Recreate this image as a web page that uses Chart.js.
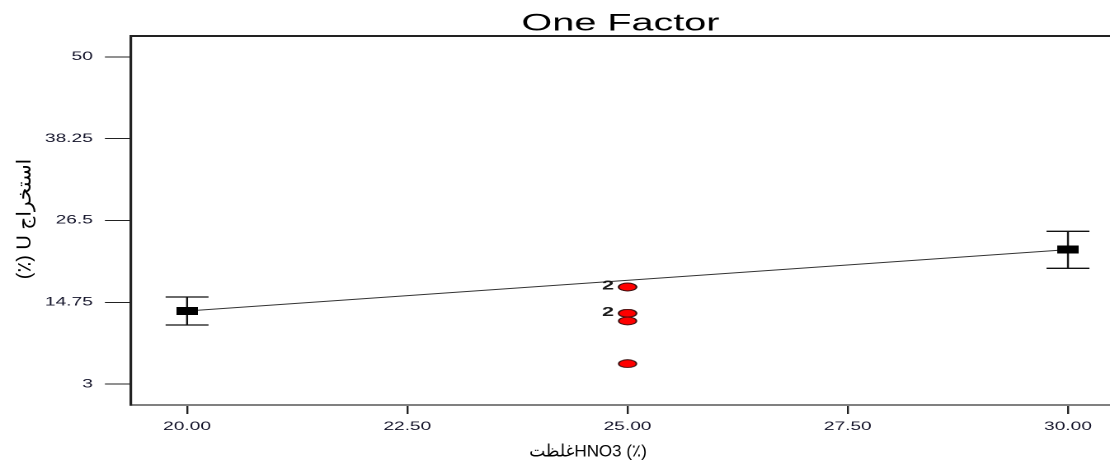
<!DOCTYPE html>
<html>
<head>
<meta charset="utf-8">
<script src="https://cdn.jsdelivr.net/npm/chart.js@4.4.1/dist/chart.umd.min.js"></script>
<style>
  html, body { margin: 0; padding: 0; background: #fff; overflow: hidden; }
  #wrap { width: 673px; height: 463px; transform: scaleX(1.6493); transform-origin: 0 0; }
</style>
</head>
<body>
<div id="wrap"><canvas id="chart"></canvas></div>
<script>
// factor levels with model means and error bars
const factorLevels = [20, 30];
const meanValues = [13.5, 22.31];
const errLow = [11.49, 19.63];
const errHigh = [15.51, 24.95];

// design runs (all at 25), duplicates kept
const runX = [25, 25, 25, 25, 25, 25];
const runY = [16.95, 16.95, 13.17, 13.17, 12.07, 5.93];

const xTicks = [20, 22.5, 25, 27.5, 30];
const yTicks = [3, 14.75, 26.5, 38.25, 50];

const chartTitle = "One Factor";
const xTitle = "غلظتHNO3 (٪)";
const yTitle = "(٪) U استخراج";

// the picture is stretched sideways, everything is drawn narrow and scaled by css
const STRETCH = 1110 / 673;
const tickFont = { family: "Arial, 'Liberation Sans'", size: 11.6 };
const tickColor = "#14142a";

// marker images, drawn at 2x so they stay sharp
function markerImage(w, h, draw) {
    return new Promise(resolve => {
        const c = document.createElement("canvas");
        c.width = w * 2;
        c.height = h * 2;
        const g = c.getContext("2d");
        g.scale(2, 2);
        draw(g, w, h);
        const img = new Image(w, h);
        img.onload = () => resolve(img);
        img.src = c.toDataURL();
    });
}

const rectMarker = markerImage(13, 8, (g, w, h) => {
    g.fillStyle = "#000";
    g.fillRect(0, 0, w, h);
});

const dotMarker = markerImage(12, 9, (g, w, h) => {
    g.beginPath();
    g.ellipse(w / 2, h / 2, w / 2 - 0.6, h / 2 - 0.6, 0, 0, Math.PI * 2);
    g.fillStyle = "#ff0000";
    g.fill();
    g.lineWidth = 0.9;
    g.strokeStyle = "#3a1010";
    g.stroke();
});

const errorBars = {
    id: "errorBars",
    beforeDatasetsDraw(chart) {
        const { ctx, scales: { x, y } } = chart;
        ctx.save();
        ctx.strokeStyle = "#111";
        factorLevels.forEach((lv, i) => {
            const px = x.getPixelForValue(lv);
            const top = y.getPixelForValue(errHigh[i]);
            const bot = y.getPixelForValue(errLow[i]);
            ctx.lineWidth = 1.2;
            ctx.beginPath();
            ctx.moveTo(px, top);
            ctx.lineTo(px, bot);
            ctx.stroke();
            ctx.lineWidth = 1.3;
            ctx.beginPath();
            ctx.moveTo(px - 13, top);
            ctx.lineTo(px + 13, top);
            ctx.moveTo(px - 13, bot);
            ctx.lineTo(px + 13, bot);
            ctx.stroke();
        });
        ctx.restore();
    },
    afterDatasetsDraw(chart) {
        // count labels for overlapping runs
        const { ctx } = chart;
        const meta = chart.getDatasetMeta(1);
        ctx.save();
        ctx.font = "bold 13px Arial, 'Liberation Sans'";
        ctx.fillStyle = "#1a1a1a";
        ctx.textAlign = "right";
        ctx.textBaseline = "middle";
        runY.forEach((v, i) => {
            if (runY.indexOf(v) !== i) return;
            const n = runY.filter(u => u === v).length;
            if (n < 2) return;
            const el = meta.data[i];
            ctx.fillText(String(n), el.x - 8.2, el.y - 1);
        });
        ctx.restore();
    },
    afterDraw(chart) {
        const { ctx, chartArea } = chart;
        ctx.save();
        // top frame line
        ctx.strokeStyle = "#222";
        ctx.lineWidth = 2;
        ctx.beginPath();
        ctx.moveTo(chartArea.left, chartArea.top);
        ctx.lineTo(chartArea.right, chartArea.top);
        ctx.stroke();

        // axis titles are not stretched in the picture
        ctx.scale(1 / STRETCH, 1);
        ctx.fillStyle = "#000";
        ctx.textAlign = "center";
        ctx.textBaseline = "middle";
        ctx.font = "17px Arial, 'Liberation Sans', 'DejaVu Sans'";
        ctx.fillText(xTitle, 588, 452);
        ctx.translate(25, 219);
        ctx.rotate(-Math.PI / 2);
        ctx.font = "20px Arial, 'Liberation Sans', 'DejaVu Sans'";
        ctx.fillText(yTitle, 0, 0);
        ctx.restore();
    }
};

Promise.all([rectMarker, dotMarker]).then(([rectImg, dotImg]) => {
    new Chart(document.getElementById("chart"), {
        type: "scatter",
        data: {
            datasets: [
                {
                    data: factorLevels.map((v, i) => ({ x: v, y: meanValues[i] })),
                    showLine: true,
                    borderColor: "#333",
                    borderWidth: 1,
                    pointStyle: rectImg
                },
                {
                    data: runX.map((v, i) => ({ x: v, y: runY[i] })),
                    showLine: false,
                    pointStyle: dotImg
                }
            ]
        },
        options: {
            responsive: true,
            maintainAspectRatio: false,
            devicePixelRatio: 2,
            animation: false,
            layout: { padding: 0, autoPadding: false },
            plugins: {
                legend: { display: false },
                tooltip: { enabled: false },
                title: {
                    display: true,
                    text: chartTitle,
                    fullSize: false,
                    color: "#000",
                    font: { family: "Arial, 'Liberation Sans'", size: 24, weight: "normal", lineHeight: 1 },
                    padding: { top: 11.7, bottom: 0.3 }
                }
            },
            scales: {
                x: {
                    type: "linear",
                    min: 19.363,
                    max: 30.477,
                    afterBuildTicks: s => { s.ticks = xTicks.map(v => ({ value: v })); },
                    afterFit: s => {
                        s.height = 58;
                        s.paddingLeft = 0;
                        s.paddingRight = 0;
                    },
                    ticks: {
                        callback: v => Number(v).toFixed(2),
                        font: tickFont,
                        color: tickColor,
                        padding: 6,
                        maxRotation: 0
                    },
                    grid: {
                        drawOnChartArea: false,
                        tickLength: 9,
                        color: "#222",
                        lineWidth: 1.2
                    },
                    border: { color: "#808080", width: 2 }
                },
                y: {
                    type: "linear",
                    min: 0,
                    max: 53,
                    afterBuildTicks: s => { s.ticks = yTicks.map(v => ({ value: v })); },
                    afterFit: s => {
                        s.width = 79.4;
                        s.paddingTop = 0;
                        s.paddingBottom = 0;
                    },
                    ticks: {
                        callback: v => String(v),
                        font: tickFont,
                        color: tickColor,
                        padding: 7.3
                    },
                    grid: {
                        drawOnChartArea: false,
                        tickLength: 15.8,
                        color: "#222",
                        lineWidth: 1
                    },
                    border: { color: "#222", width: 1.6 }
                }
            }
        },
        plugins: [errorBars]
    });
});
</script>
</body>
</html>
